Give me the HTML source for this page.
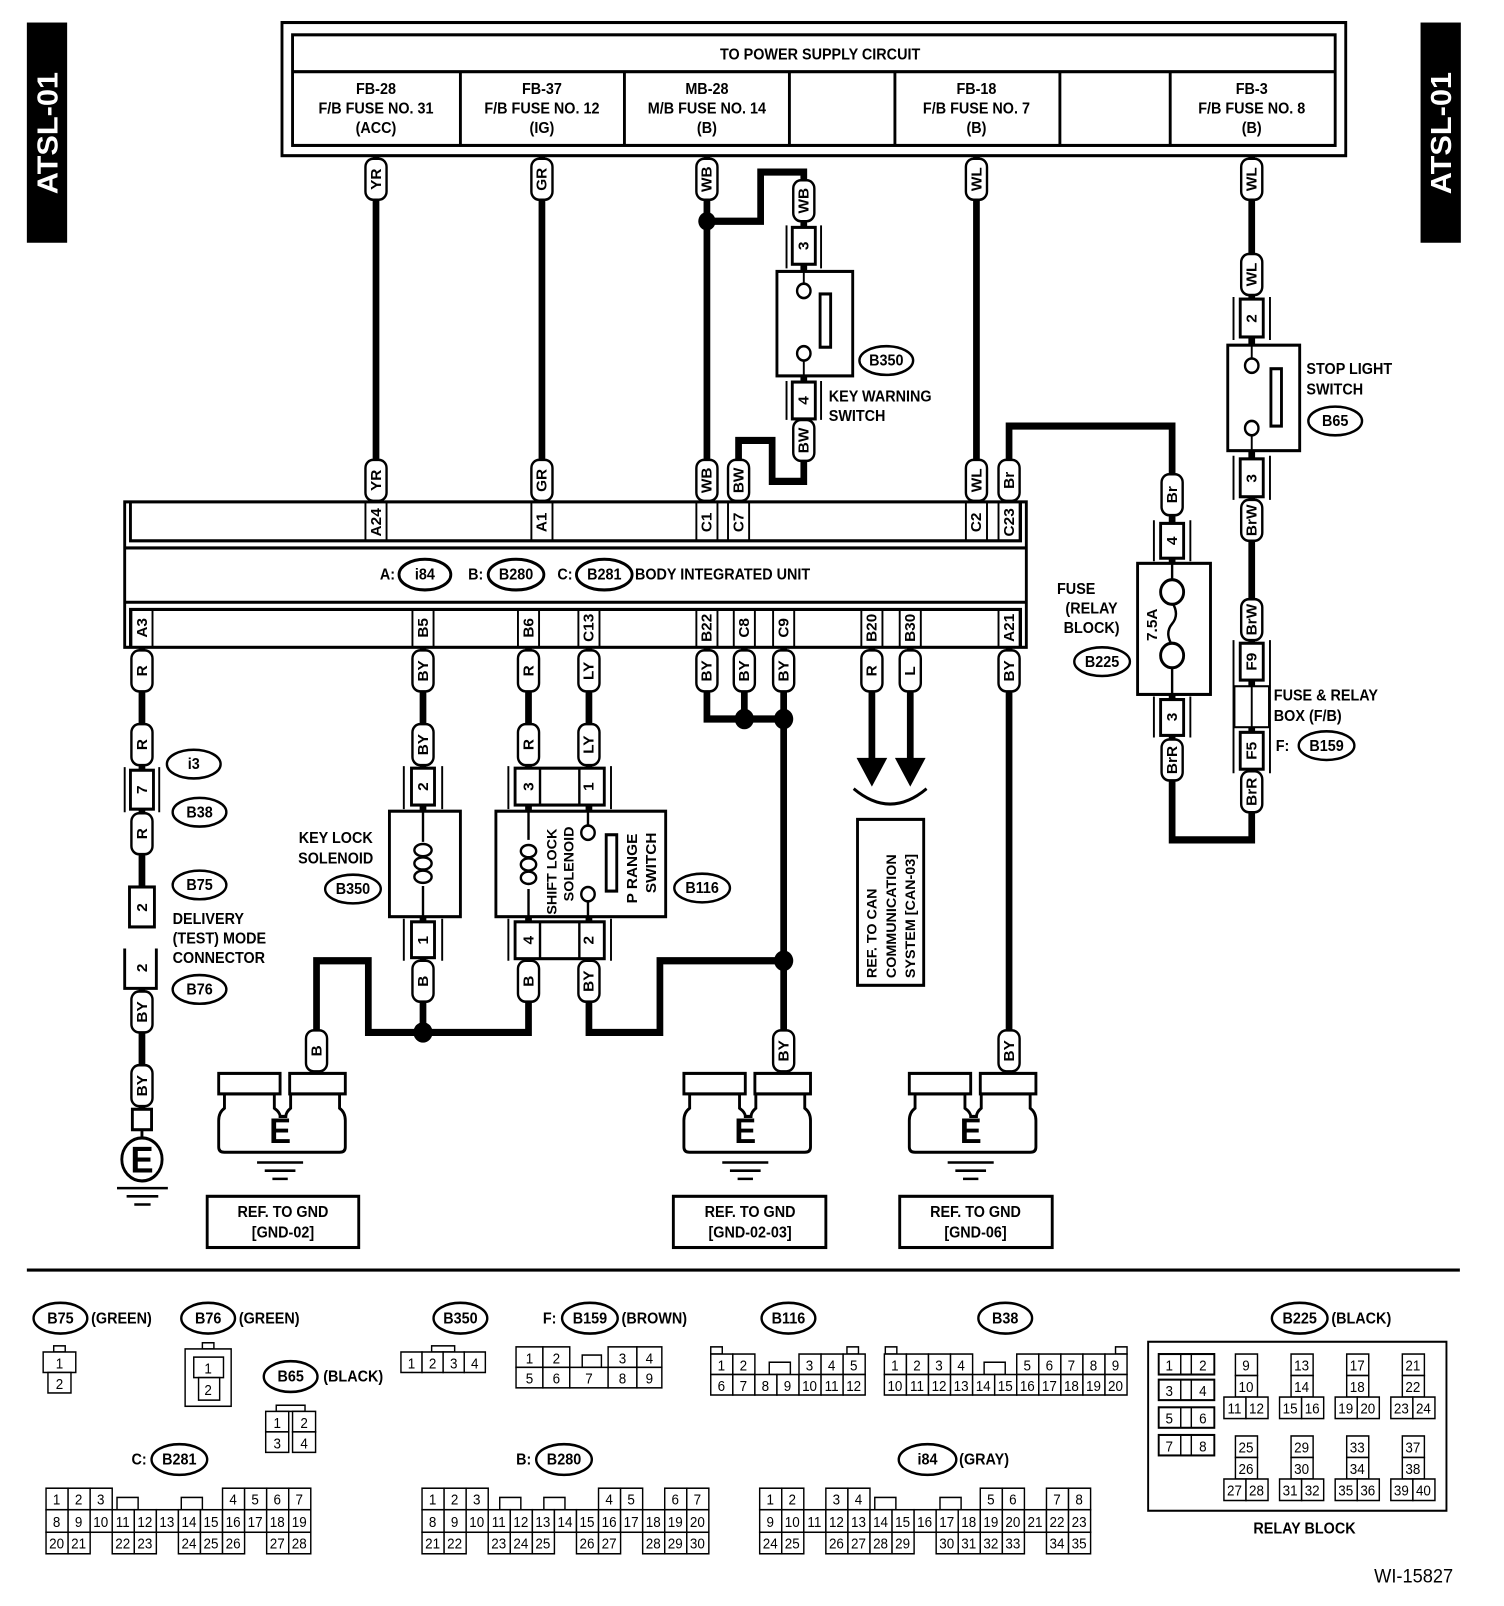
<!DOCTYPE html>
<html><head><meta charset="utf-8"><style>
html,body{margin:0;padding:0;background:#fff}
svg{display:block}
text{font-family:"Liberation Sans",sans-serif;font-weight:bold;font-size:15px;fill:#000;text-anchor:middle}
.n text,text.n{font-weight:normal;font-size:14px}
.w{fill:none;stroke:#000;stroke-width:7}
.t{fill:none;stroke:#000;stroke-width:3}
.b{fill:#fff;stroke:#000;stroke-width:3}
.c{fill:#fff;stroke:#000;stroke-width:1.5}
.p rect{fill:#fff;stroke:#000;stroke-width:2.5}
.l{text-anchor:start}
</style></head><body>
<svg width="1504" height="1606" viewBox="0 0 1568 1568" preserveAspectRatio="none" xmlns="http://www.w3.org/2000/svg">
<rect x="28" y="22" width="42" height="215" fill="#000"/>
<text transform="translate(60,130) rotate(-90)" style="fill:#fff;font-size:30px">ATSL-01</text>
<rect x="1481" y="22" width="42" height="215" fill="#000"/>
<text transform="translate(1513,130) rotate(-90)" style="fill:#fff;font-size:30px">ATSL-01</text>

<rect x="294" y="22" width="1109" height="130" class="t"/>
<rect x="305" y="34" width="1087" height="108" class="t"/>
<line x1="305" y1="70" x2="1392" y2="70" class="t"/>
<path d="M480,70V142M651,70V142M823,70V142M933,70V142M1105,70V142M1220,70V142" class="t"/>
<text x="855" y="58">TO POWER SUPPLY CIRCUIT</text>
<text x="392" y="92">FB-28</text><text x="392" y="111">F/B FUSE NO. 31</text><text x="392" y="130">(ACC)</text>
<text x="565" y="92">FB-37</text><text x="565" y="111">F/B FUSE NO. 12</text><text x="565" y="130">(IG)</text>
<text x="737" y="92">MB-28</text><text x="737" y="111">M/B FUSE NO. 14</text><text x="737" y="130">(B)</text>
<text x="1018" y="92">FB-18</text><text x="1018" y="111">F/B FUSE NO. 7</text><text x="1018" y="130">(B)</text>
<text x="1305" y="92">FB-3</text><text x="1305" y="111">F/B FUSE NO. 8</text><text x="1305" y="130">(B)</text>

<path class="w" d="M392,152V490M565,152V490M737,152V490M1018,152V490"/>
<path class="w" d="M737,216H793V168H838V470H805V430H770V490"/>
<path class="w" d="M1052,490V416H1222V820H1305V152"/>
<path class="w" d="M148,632V905M148,965V1103"/>
<path class="w" d="M441,632V1008H384V938H330V1048"/>
<path class="w" d="M551,632V1008H441"/>
<path class="w" d="M614,632V1008H688V938H817"/>
<path class="w" d="M737,632V702H817M776,632V702M817,632V1048"/>
<path class="w" d="M909,632V745M949,632V745M1052,632V1048"/>
<circle cx="737" cy="216" r="9"/><circle cx="441" cy="1008" r="10"/>
<circle cx="776" cy="702" r="10"/><circle cx="817" cy="702" r="10"/><circle cx="817" cy="938" r="10"/>
<path d="M893,740H925L909,768ZM933,740H965L949,768Z"/>
<path d="M890,770Q928,800 966,770" class="t"/>

<rect x="130" y="490" width="940" height="142" class="b"/>
<path class="t" d="M136,490V528H1064V490M130,535H1070M130,588H1070M136,632V595H1064V632"/>
<g class="t" style="stroke-width:2">
<path d="M381,490V528M403,490V528M554,490V528M576,490V528M726,490V528M748,490V528M759,490V528M781,490V528M1007,490V528M1029,490V528M1041,490V528M1063,490V528"/>
<path d="M137,595V632M159,595V632M430,595V632M452,595V632M540,595V632M562,595V632M603,595V632M625,595V632M726,595V632M748,595V632M765,595V632M787,595V632M806,595V632M828,595V632M898,595V632M920,595V632M938,595V632M960,595V632M1041,595V632M1063,595V632"/>
</g>
<g style="font-size:14px">
<text transform="translate(397,510) rotate(-90)">A24</text>
<text transform="translate(570,510) rotate(-90)">A1</text>
<text transform="translate(742,510) rotate(-90)">C1</text>
<text transform="translate(775,510) rotate(-90)">C7</text>
<text transform="translate(1023,510) rotate(-90)">C2</text>
<text transform="translate(1057,510) rotate(-90)">C23</text>
<text transform="translate(153,613) rotate(-90)">A3</text>
<text transform="translate(446,613) rotate(-90)">B5</text>
<text transform="translate(556,613) rotate(-90)">B6</text>
<text transform="translate(619,613) rotate(-90)">C13</text>
<text transform="translate(742,613) rotate(-90)">B22</text>
<text transform="translate(781,613) rotate(-90)">C8</text>
<text transform="translate(822,613) rotate(-90)">C9</text>
<text transform="translate(914,613) rotate(-90)">B20</text>
<text transform="translate(954,613) rotate(-90)">B30</text>
<text transform="translate(1057,613) rotate(-90)">A21</text>
</g>
<text x="404" y="566">A:</text><ellipse cx="443" cy="561" rx="27" ry="15" class="t"/><text x="443" y="566">i84</text>
<text x="496" y="566">B:</text><ellipse cx="538" cy="561" rx="29" ry="15" class="t"/><text x="538" y="566">B280</text>
<text x="589" y="566">C:</text><ellipse cx="630" cy="561" rx="29" ry="15" class="t"/><text x="630" y="566">B281</text>
<text x="662" y="566" class="l">BODY INTEGRATED UNIT</text>

<g class="p" style="font-size:14px">
<g transform="translate(392,175)"><rect x="-11" y="-20" width="22" height="40" rx="8"/><text transform="rotate(-90)" y="5">YR</text></g>
<g transform="translate(565,175)"><rect x="-11" y="-20" width="22" height="40" rx="8"/><text transform="rotate(-90)" y="5">GR</text></g>
<g transform="translate(737,175)"><rect x="-11" y="-20" width="22" height="40" rx="8"/><text transform="rotate(-90)" y="5">WB</text></g>
<g transform="translate(1018,175)"><rect x="-11" y="-20" width="22" height="40" rx="8"/><text transform="rotate(-90)" y="5">WL</text></g>
<g transform="translate(1305,175)"><rect x="-11" y="-20" width="22" height="40" rx="8"/><text transform="rotate(-90)" y="5">WL</text></g>
<g transform="translate(392,469)"><rect x="-11" y="-20" width="22" height="40" rx="8"/><text transform="rotate(-90)" y="5">YR</text></g>
<g transform="translate(565,469)"><rect x="-11" y="-20" width="22" height="40" rx="8"/><text transform="rotate(-90)" y="5">GR</text></g>
<g transform="translate(737,469)"><rect x="-11" y="-20" width="22" height="40" rx="8"/><text transform="rotate(-90)" y="5">WB</text></g>
<g transform="translate(770,469)"><rect x="-11" y="-20" width="22" height="40" rx="8"/><text transform="rotate(-90)" y="5">BW</text></g>
<g transform="translate(1018,469)"><rect x="-11" y="-20" width="22" height="40" rx="8"/><text transform="rotate(-90)" y="5">WL</text></g>
<g transform="translate(1052,469)"><rect x="-11" y="-20" width="22" height="40" rx="8"/><text transform="rotate(-90)" y="5">Br</text></g>
<g transform="translate(838,196)"><rect x="-11" y="-20" width="22" height="40" rx="8"/><text transform="rotate(-90)" y="5">WB</text></g>
<g transform="translate(838,430)"><rect x="-11" y="-20" width="22" height="40" rx="8"/><text transform="rotate(-90)" y="5">BW</text></g>
<g transform="translate(1222,483)"><rect x="-11" y="-20" width="22" height="40" rx="8"/><text transform="rotate(-90)" y="5">Br</text></g>
<g transform="translate(1222,742)"><rect x="-11" y="-20" width="22" height="40" rx="8"/><text transform="rotate(-90)" y="5">BrR</text></g>
<g transform="translate(1305,268)"><rect x="-11" y="-20" width="22" height="40" rx="8"/><text transform="rotate(-90)" y="5">WL</text></g>
<g transform="translate(1305,508)"><rect x="-11" y="-20" width="22" height="40" rx="8"/><text transform="rotate(-90)" y="5">BrW</text></g>
<g transform="translate(1305,605)"><rect x="-11" y="-20" width="22" height="40" rx="8"/><text transform="rotate(-90)" y="5">BrW</text></g>
<g transform="translate(1305,773)"><rect x="-11" y="-20" width="22" height="40" rx="8"/><text transform="rotate(-90)" y="5">BrR</text></g>
<g transform="translate(148,655)"><rect x="-11" y="-20" width="22" height="40" rx="8"/><text transform="rotate(-90)" y="5">R</text></g>
<g transform="translate(441,655)"><rect x="-11" y="-20" width="22" height="40" rx="8"/><text transform="rotate(-90)" y="5">BY</text></g>
<g transform="translate(551,655)"><rect x="-11" y="-20" width="22" height="40" rx="8"/><text transform="rotate(-90)" y="5">R</text></g>
<g transform="translate(614,655)"><rect x="-11" y="-20" width="22" height="40" rx="8"/><text transform="rotate(-90)" y="5">LY</text></g>
<g transform="translate(737,655)"><rect x="-11" y="-20" width="22" height="40" rx="8"/><text transform="rotate(-90)" y="5">BY</text></g>
<g transform="translate(776,655)"><rect x="-11" y="-20" width="22" height="40" rx="8"/><text transform="rotate(-90)" y="5">BY</text></g>
<g transform="translate(817,655)"><rect x="-11" y="-20" width="22" height="40" rx="8"/><text transform="rotate(-90)" y="5">BY</text></g>
<g transform="translate(909,655)"><rect x="-11" y="-20" width="22" height="40" rx="8"/><text transform="rotate(-90)" y="5">R</text></g>
<g transform="translate(949,655)"><rect x="-11" y="-20" width="22" height="40" rx="8"/><text transform="rotate(-90)" y="5">L</text></g>
<g transform="translate(1052,655)"><rect x="-11" y="-20" width="22" height="40" rx="8"/><text transform="rotate(-90)" y="5">BY</text></g>
<g transform="translate(148,727)"><rect x="-11" y="-20" width="22" height="40" rx="8"/><text transform="rotate(-90)" y="5">R</text></g>
<g transform="translate(148,814)"><rect x="-11" y="-20" width="22" height="40" rx="8"/><text transform="rotate(-90)" y="5">R</text></g>
<g transform="translate(148,988)"><rect x="-11" y="-20" width="22" height="40" rx="8"/><text transform="rotate(-90)" y="5">BY</text></g>
<g transform="translate(148,1060)"><rect x="-11" y="-20" width="22" height="40" rx="8"/><text transform="rotate(-90)" y="5">BY</text></g>
<g transform="translate(441,727)"><rect x="-11" y="-20" width="22" height="40" rx="8"/><text transform="rotate(-90)" y="5">BY</text></g>
<g transform="translate(441,958)"><rect x="-11" y="-20" width="22" height="40" rx="8"/><text transform="rotate(-90)" y="5">B</text></g>
<g transform="translate(551,727)"><rect x="-11" y="-20" width="22" height="40" rx="8"/><text transform="rotate(-90)" y="5">R</text></g>
<g transform="translate(614,727)"><rect x="-11" y="-20" width="22" height="40" rx="8"/><text transform="rotate(-90)" y="5">LY</text></g>
<g transform="translate(551,958)"><rect x="-11" y="-20" width="22" height="40" rx="8"/><text transform="rotate(-90)" y="5">B</text></g>
<g transform="translate(614,958)"><rect x="-11" y="-20" width="22" height="40" rx="8"/><text transform="rotate(-90)" y="5">BY</text></g>
<g transform="translate(330,1026)"><rect x="-11" y="-20" width="22" height="40" rx="8"/><text transform="rotate(-90)" y="5">B</text></g>
<g transform="translate(817,1026)"><rect x="-11" y="-20" width="22" height="40" rx="8"/><text transform="rotate(-90)" y="5">BY</text></g>
<g transform="translate(1052,1026)"><rect x="-11" y="-20" width="22" height="40" rx="8"/><text transform="rotate(-90)" y="5">BY</text></g>
</g>

<g style="font-size:14px">
<rect x="826" y="222" width="24" height="36" class="b"/><text transform="translate(843,240) rotate(-90)">3</text>
<path d="M820,220V262M856,220V262M820,372V410M856,372V410" class="t" style="stroke-width:2"/>
<rect x="826" y="373" width="24" height="36" class="b"/><text transform="translate(843,391) rotate(-90)">4</text>
<rect x="810" y="265" width="79" height="102" class="b"/>
<path d="M838,265V277M838,351V367" class="t" style="stroke-width:2"/>
<circle cx="838" cy="284" r="7" class="b" style="stroke-width:2.5"/><circle cx="838" cy="345" r="7" class="b" style="stroke-width:2.5"/>
<rect x="855" y="287" width="11" height="52" class="b"/>

<rect x="1210" y="511" width="24" height="34" class="b"/><text transform="translate(1227,528) rotate(-90)">4</text>
<rect x="1210" y="683" width="24" height="35" class="b"/><text transform="translate(1227,700) rotate(-90)">3</text>
<path d="M1203,508V548M1241,508V548M1203,680V720M1241,680V720" class="t" style="stroke-width:2"/>
<rect x="1186" y="550" width="76" height="128" class="b"/>
<path d="M1222,550V568M1222,650V678M1222,588Q1230,600 1222,609Q1214,618 1222,630" class="t" style="stroke-width:2.5"/>
<circle cx="1222" cy="578" r="12" class="b"/><circle cx="1222" cy="640" r="12" class="b"/>
<text transform="translate(1206,610) rotate(-90)">7.5A</text>

<rect x="1293" y="292" width="24" height="37" class="b"/><text transform="translate(1310,311) rotate(-90)">2</text>
<rect x="1293" y="448" width="24" height="37" class="b"/><text transform="translate(1310,467) rotate(-90)">3</text>
<path d="M1286,290V332M1324,290V332M1286,445V488M1324,445V488" class="t" style="stroke-width:2"/>
<rect x="1280" y="337" width="75" height="103" class="b"/>
<path d="M1305,337V350M1305,425V440" class="t" style="stroke-width:2"/>
<circle cx="1305" cy="357" r="7" class="b" style="stroke-width:2.5"/><circle cx="1305" cy="418" r="7" class="b" style="stroke-width:2.5"/>
<rect x="1325" y="360" width="11" height="56" class="b"/>
<rect x="1293" y="628" width="24" height="36" class="b"/><text transform="translate(1310,646) rotate(-90)">F9</text>
<rect x="1287" y="670" width="36" height="40" class="b" style="stroke-width:2"/><line x1="1305" y1="670" x2="1305" y2="710" class="t" style="stroke-width:2"/>
<rect x="1293" y="715" width="24" height="36" class="b"/><text transform="translate(1310,733) rotate(-90)">F5</text>
<path d="M1286,625V755M1324,625V755" class="t" style="stroke-width:2"/>

<rect x="136" y="752" width="24" height="38" class="b"/><text transform="translate(153,771) rotate(-90)">7</text>
<path d="M130,749V793M166,749V793" class="t" style="stroke-width:2"/>
<rect x="135" y="866" width="26" height="39" class="b"/><text transform="translate(153,886) rotate(-90)">2</text>
<path d="M130,926V965H163V926" class="t"/><text transform="translate(153,945) rotate(-90)">2</text>
<rect x="138" y="1083" width="20" height="20" class="b"/>
<path d="M148,1103V1112" class="t"/>
<circle cx="148" cy="1132" r="21" class="b"/>
<text x="148" y="1145" style="font-size:36px">E</text>
<path d="M122,1160H175M132,1168H165M140,1176H157" class="t" style="stroke-width:2.5"/>

<rect x="429" y="750" width="24" height="36" class="b"/><text transform="translate(446,768) rotate(-90)">2</text>
<rect x="429" y="900" width="24" height="35" class="b"/><text transform="translate(446,918) rotate(-90)">1</text>
<path d="M421,748V790M461,748V790M421,897V938M461,897V938" class="t" style="stroke-width:2"/>
<rect x="406" y="792" width="74" height="103" class="b"/>
<path d="M441,792V822M441,865V895" class="t" style="stroke-width:2.5"/>
<g class="t" style="stroke-width:2.5"><ellipse cx="441" cy="830" rx="9" ry="6"/><ellipse cx="441" cy="843" rx="9" ry="6"/><ellipse cx="441" cy="856" rx="9" ry="6"/></g>

<rect x="537" y="750" width="93" height="36" class="b"/>
<path d="M563,750V786M604,750V786" class="t" style="stroke-width:2.5"/>
<text transform="translate(556,768) rotate(-90)">3</text><text transform="translate(619,768) rotate(-90)">1</text>
<rect x="537" y="900" width="93" height="36" class="b"/>
<path d="M563,900V936M604,900V936" class="t" style="stroke-width:2.5"/>
<text transform="translate(556,918) rotate(-90)">4</text><text transform="translate(619,918) rotate(-90)">2</text>
<path d="M530,748V790M637,748V790M530,897V938M637,897V938" class="t" style="stroke-width:2"/>
<rect x="517" y="792" width="177" height="103" class="b"/>
<path d="M551,792V820M551,868V895M613,792V806M613,880V895" class="t" style="stroke-width:2.5"/>
<g class="t" style="stroke-width:2.5"><ellipse cx="551" cy="831" rx="8" ry="6"/><ellipse cx="551" cy="844" rx="8" ry="6"/><ellipse cx="551" cy="857" rx="8" ry="6"/></g>
<circle cx="613" cy="813" r="7" class="b" style="stroke-width:2.5"/><circle cx="613" cy="873" r="7" class="b" style="stroke-width:2.5"/>
<rect x="632" y="815" width="11" height="55" class="b"/>
</g>
<text transform="translate(580,893) rotate(-90)" class="l" style="font-size:14px">SHIFT LOCK</text>
<text transform="translate(598,880) rotate(-90)" class="l" style="font-size:14px">SOLENOID</text>
<text transform="translate(664,882) rotate(-90)" class="l" style="font-size:15px">P RANGE</text>
<text transform="translate(684,872) rotate(-90)" class="l" style="font-size:15px">SWITCH</text>

<rect x="894" y="800" width="69" height="162" class="t"/>
<text transform="translate(914,955) rotate(-90)" class="l" style="font-size:14px">REF. TO CAN</text>
<text transform="translate(934,955) rotate(-90)" class="l" style="font-size:14px">COMMUNICATION</text>
<text transform="translate(954,955) rotate(-90)" class="l" style="font-size:14px">SYSTEM [CAN-03]</text>

<g>
<path class="b" d="M234,1068V1082Q228,1086 228,1094V1120Q228,1125 234,1125H354Q360,1125 360,1120V1094Q360,1086 354,1082V1068H303V1082Q298,1086 298,1090H292Q292,1086 286,1082V1068Z"/>
<rect x="228" y="1048" width="64" height="20" class="b"/><rect x="302" y="1048" width="58" height="20" class="b"/>
<text x="292" y="1116" style="font-size:34px">E</text>
<path d="M268,1135H316M276,1143H308M284,1151H300" class="t" style="stroke-width:2.5"/>
<rect x="216" y="1168" width="158" height="50" class="t"/>
<text x="295" y="1188">REF. TO GND</text><text x="295" y="1208">[GND-02]</text>
</g>
<g transform="translate(485,0)">
<path class="b" d="M234,1068V1082Q228,1086 228,1094V1120Q228,1125 234,1125H354Q360,1125 360,1120V1094Q360,1086 354,1082V1068H303V1082Q298,1086 298,1090H292Q292,1086 286,1082V1068Z"/>
<rect x="228" y="1048" width="64" height="20" class="b"/><rect x="302" y="1048" width="58" height="20" class="b"/>
<text x="292" y="1116" style="font-size:34px">E</text>
<path d="M268,1135H316M276,1143H308M284,1151H300" class="t" style="stroke-width:2.5"/>
<rect x="217" y="1168" width="159" height="50" class="t"/>
<text x="297" y="1188">REF. TO GND</text><text x="297" y="1208">[GND-02-03]</text>
</g>
<g transform="translate(720,0)">
<path class="b" d="M234,1068V1082Q228,1086 228,1094V1120Q228,1125 234,1125H354Q360,1125 360,1120V1094Q360,1086 354,1082V1068H303V1082Q298,1086 298,1090H292Q292,1086 286,1082V1068Z"/>
<rect x="228" y="1048" width="64" height="20" class="b"/><rect x="302" y="1048" width="58" height="20" class="b"/>
<text x="292" y="1116" style="font-size:34px">E</text>
<path d="M268,1135H316M276,1143H308M284,1151H300" class="t" style="stroke-width:2.5"/>
<rect x="218" y="1168" width="159" height="50" class="t"/>
<text x="297" y="1188">REF. TO GND</text><text x="297" y="1208">[GND-06]</text>
</g>

<g class="t" style="stroke-width:2.5">
<ellipse cx="924" cy="352" rx="28" ry="14"/><ellipse cx="1392" cy="411" rx="28" ry="14"/>
<ellipse cx="1149" cy="646" rx="29" ry="14"/><ellipse cx="1383" cy="728" rx="29" ry="14"/>
<ellipse cx="202" cy="746" rx="28" ry="14"/><ellipse cx="208" cy="793" rx="28" ry="14"/>
<ellipse cx="208" cy="864" rx="28" ry="14"/><ellipse cx="208" cy="966" rx="28" ry="14"/>
<ellipse cx="368" cy="868" rx="29" ry="14"/><ellipse cx="732" cy="867" rx="29" ry="14"/>
</g>
<text x="924" y="357">B350</text><text x="1392" y="416">B65</text><text x="1149" y="651">B225</text><text x="1383" y="733">B159</text>
<text x="202" y="751">i3</text><text x="208" y="798">B38</text><text x="208" y="869">B75</text><text x="208" y="971">B76</text>
<text x="368" y="873">B350</text><text x="732" y="872">B116</text>
<text x="864" y="392" class="l">KEY WARNING</text><text x="864" y="411" class="l">SWITCH</text>
<text x="1362" y="365" class="l">STOP LIGHT</text><text x="1362" y="385" class="l">SWITCH</text>
<text x="1328" y="684" class="l">FUSE &amp; RELAY</text><text x="1328" y="704" class="l">BOX (F/B)</text><text x="1330" y="733" class="l">F:</text>
<text x="180" y="902" class="l">DELIVERY</text><text x="180" y="921" class="l">(TEST) MODE</text><text x="180" y="940" class="l">CONNECTOR</text>
<text x="1122" y="580">FUSE</text><text x="1138" y="599">(RELAY</text><text x="1138" y="618">BLOCK)</text>
<text x="350" y="823">KEY LOCK</text><text x="350" y="843">SOLENOID</text>

<line x1="28" y1="1240" x2="1522" y2="1240" class="t"/>

<g class="t" style="stroke-width:2.5">
<ellipse cx="63" cy="1287" rx="28" ry="15"/><ellipse cx="217" cy="1287" rx="28" ry="15"/>
<ellipse cx="303" cy="1344" rx="28" ry="15"/><ellipse cx="480" cy="1287" rx="28" ry="15"/>
<ellipse cx="615" cy="1287" rx="29" ry="15"/><ellipse cx="822" cy="1287" rx="28" ry="15"/>
<ellipse cx="1048" cy="1287" rx="28" ry="15"/><ellipse cx="1355" cy="1287" rx="29" ry="15"/>
<ellipse cx="187" cy="1425" rx="29" ry="15"/><ellipse cx="588" cy="1425" rx="29" ry="15"/>
<ellipse cx="967" cy="1425" rx="30" ry="15"/>
</g>
<text x="63" y="1292">B75</text><text x="95" y="1292" class="l">(GREEN)</text>
<text x="217" y="1292">B76</text><text x="249" y="1292" class="l">(GREEN)</text>
<text x="303" y="1349">B65</text><text x="337" y="1349" class="l">(BLACK)</text>
<text x="480" y="1292">B350</text>
<text x="573" y="1292">F:</text><text x="615" y="1292">B159</text><text x="648" y="1292" class="l">(BROWN)</text>
<text x="822" y="1292">B116</text><text x="1048" y="1292">B38</text>
<text x="1355" y="1292">B225</text><text x="1388" y="1292" class="l">(BLACK)</text>
<text x="145" y="1430">C:</text><text x="187" y="1430">B281</text>
<text x="546" y="1430">B:</text><text x="588" y="1430">B280</text>
<text x="967" y="1430">i84</text><text x="1000" y="1430" class="l">(GRAY)</text>
<text x="1360" y="1497">RELAY BLOCK</text>
<text x="1515" y="1545" style="font-weight:normal;font-size:19px;text-anchor:end">WI-15827</text>

<g class="n">
<rect x="56" y="1314" width="12" height="6" class="c"/>
<rect x="45" y="1320" width="34" height="20" class="c"/><text x="62" y="1336">1</text>
<rect x="50" y="1340" width="24" height="20" class="c"/><text x="62" y="1356">2</text>
<rect x="211" y="1311" width="12" height="6" class="c"/>
<rect x="193" y="1317" width="48" height="56" class="c"/>
<rect x="202" y="1325" width="31" height="20" class="c"/><text x="217" y="1341">1</text>
<rect x="207" y="1345" width="22" height="22" class="c"/><text x="217" y="1362">2</text>
<rect x="288" y="1372" width="30" height="6" class="c"/>
<rect x="277" y="1378" width="24" height="20" class="c"/><text x="289" y="1394">1</text>
<rect x="305" y="1378" width="24" height="20" class="c"/><text x="317" y="1394">2</text>
<rect x="277" y="1398" width="24" height="20" class="c"/><text x="289" y="1414">3</text>
<rect x="305" y="1398" width="24" height="20" class="c"/><text x="317" y="1414">4</text>
<rect x="450" y="1314" width="24" height="6" class="c"/>
<rect x="418" y="1320" width="22" height="20" class="c"/><text x="429" y="1336">1</text>
<rect x="440" y="1320" width="22" height="20" class="c"/><text x="451" y="1336">2</text>
<rect x="462" y="1320" width="22" height="20" class="c"/><text x="473" y="1336">3</text>
<rect x="484" y="1320" width="22" height="20" class="c"/><text x="495" y="1336">4</text>
<rect x="538" y="1315" width="28" height="20" class="c"/><text x="552" y="1331">1</text>
<rect x="566" y="1315" width="28" height="20" class="c"/><text x="580" y="1331">2</text>
<rect x="607" y="1323" width="20" height="12" class="c"/>
<rect x="634" y="1315" width="30" height="20" class="c"/><text x="649" y="1331">3</text>
<rect x="664" y="1315" width="26" height="20" class="c"/><text x="677" y="1331">4</text>
<rect x="538" y="1335" width="28" height="20" class="c"/><text x="552" y="1351">5</text>
<rect x="566" y="1335" width="28" height="20" class="c"/><text x="580" y="1351">6</text>
<rect x="594" y="1335" width="40" height="20" class="c"/><text x="614" y="1351">7</text>
<rect x="634" y="1335" width="30" height="20" class="c"/><text x="649" y="1351">8</text>
<rect x="664" y="1335" width="26" height="20" class="c"/><text x="677" y="1351">9</text>
<rect x="741" y="1315" width="12" height="7" class="c"/><rect x="883" y="1315" width="12" height="7" class="c"/>
<rect x="741" y="1322" width="23" height="20" class="c"/><text x="752" y="1338">1</text>
<rect x="764" y="1322" width="23" height="20" class="c"/><text x="775" y="1338">2</text>
<rect x="802" y="1330" width="22" height="12" class="c"/>
<rect x="833" y="1322" width="23" height="20" class="c"/><text x="844" y="1338">3</text>
<rect x="856" y="1322" width="23" height="20" class="c"/><text x="867" y="1338">4</text>
<rect x="879" y="1322" width="23" height="20" class="c"/><text x="890" y="1338">5</text>
<rect x="741" y="1342" width="23" height="20" class="c"/><text x="752" y="1358">6</text>
<rect x="764" y="1342" width="23" height="20" class="c"/><text x="775" y="1358">7</text>
<rect x="787" y="1342" width="23" height="20" class="c"/><text x="798" y="1358">8</text>
<rect x="810" y="1342" width="23" height="20" class="c"/><text x="821" y="1358">9</text>
<rect x="833" y="1342" width="23" height="20" class="c"/><text x="844" y="1358">10</text>
<rect x="856" y="1342" width="23" height="20" class="c"/><text x="867" y="1358">11</text>
<rect x="879" y="1342" width="23" height="20" class="c"/><text x="890" y="1358">12</text>
<rect x="923" y="1315" width="12" height="7" class="c"/><rect x="1163" y="1315" width="12" height="7" class="c"/>
<rect x="922" y="1322" width="23" height="20" class="c"/><text x="933" y="1338">1</text>
<rect x="945" y="1322" width="23" height="20" class="c"/><text x="956" y="1338">2</text>
<rect x="968" y="1322" width="23" height="20" class="c"/><text x="979" y="1338">3</text>
<rect x="991" y="1322" width="23" height="20" class="c"/><text x="1002" y="1338">4</text>
<rect x="1026" y="1330" width="22" height="12" class="c"/>
<rect x="1060" y="1322" width="23" height="20" class="c"/><text x="1071" y="1338">5</text>
<rect x="1083" y="1322" width="23" height="20" class="c"/><text x="1094" y="1338">6</text>
<rect x="1106" y="1322" width="23" height="20" class="c"/><text x="1117" y="1338">7</text>
<rect x="1129" y="1322" width="23" height="20" class="c"/><text x="1140" y="1338">8</text>
<rect x="1152" y="1322" width="23" height="20" class="c"/><text x="1163" y="1338">9</text>
<rect x="922" y="1342" width="23" height="20" class="c"/><text x="933" y="1358">10</text>
<rect x="945" y="1342" width="23" height="20" class="c"/><text x="956" y="1358">11</text>
<rect x="968" y="1342" width="23" height="20" class="c"/><text x="979" y="1358">12</text>
<rect x="991" y="1342" width="23" height="20" class="c"/><text x="1002" y="1358">13</text>
<rect x="1014" y="1342" width="23" height="20" class="c"/><text x="1025" y="1358">14</text>
<rect x="1037" y="1342" width="23" height="20" class="c"/><text x="1048" y="1358">15</text>
<rect x="1060" y="1342" width="23" height="20" class="c"/><text x="1071" y="1358">16</text>
<rect x="1083" y="1342" width="23" height="20" class="c"/><text x="1094" y="1358">17</text>
<rect x="1106" y="1342" width="23" height="20" class="c"/><text x="1117" y="1358">18</text>
<rect x="1129" y="1342" width="23" height="20" class="c"/><text x="1140" y="1358">19</text>
<rect x="1152" y="1342" width="23" height="20" class="c"/><text x="1163" y="1358">20</text>

<rect x="48" y="1453" width="23" height="21" class="c"/><text x="59" y="1469">1</text>
<rect x="71" y="1453" width="23" height="21" class="c"/><text x="82" y="1469">2</text>
<rect x="94" y="1453" width="23" height="21" class="c"/><text x="105" y="1469">3</text>
<rect x="122" y="1462" width="22" height="12" class="c"/><rect x="189" y="1462" width="22" height="12" class="c"/>
<rect x="232" y="1453" width="23" height="21" class="c"/><text x="243" y="1469">4</text>
<rect x="255" y="1453" width="23" height="21" class="c"/><text x="266" y="1469">5</text>
<rect x="278" y="1453" width="23" height="21" class="c"/><text x="289" y="1469">6</text>
<rect x="301" y="1453" width="23" height="21" class="c"/><text x="312" y="1469">7</text>
<rect x="48" y="1474" width="23" height="22" class="c"/><text x="59" y="1491">8</text>
<rect x="71" y="1474" width="23" height="22" class="c"/><text x="82" y="1491">9</text>
<rect x="94" y="1474" width="23" height="22" class="c"/><text x="105" y="1491">10</text>
<rect x="117" y="1474" width="23" height="22" class="c"/><text x="128" y="1491">11</text>
<rect x="140" y="1474" width="23" height="22" class="c"/><text x="151" y="1491">12</text>
<rect x="163" y="1474" width="23" height="22" class="c"/><text x="174" y="1491">13</text>
<rect x="186" y="1474" width="23" height="22" class="c"/><text x="197" y="1491">14</text>
<rect x="209" y="1474" width="23" height="22" class="c"/><text x="220" y="1491">15</text>
<rect x="232" y="1474" width="23" height="22" class="c"/><text x="243" y="1491">16</text>
<rect x="255" y="1474" width="23" height="22" class="c"/><text x="266" y="1491">17</text>
<rect x="278" y="1474" width="23" height="22" class="c"/><text x="289" y="1491">18</text>
<rect x="301" y="1474" width="23" height="22" class="c"/><text x="312" y="1491">19</text>
<rect x="48" y="1496" width="23" height="21" class="c"/><text x="59" y="1512">20</text>
<rect x="71" y="1496" width="23" height="21" class="c"/><text x="82" y="1512">21</text>
<rect x="117" y="1496" width="23" height="21" class="c"/><text x="128" y="1512">22</text>
<rect x="140" y="1496" width="23" height="21" class="c"/><text x="151" y="1512">23</text>
<rect x="186" y="1496" width="23" height="21" class="c"/><text x="197" y="1512">24</text>
<rect x="209" y="1496" width="23" height="21" class="c"/><text x="220" y="1512">25</text>
<rect x="232" y="1496" width="23" height="21" class="c"/><text x="243" y="1512">26</text>
<rect x="278" y="1496" width="23" height="21" class="c"/><text x="289" y="1512">27</text>
<rect x="301" y="1496" width="23" height="21" class="c"/><text x="312" y="1512">28</text>

<rect x="440" y="1453" width="23" height="21" class="c"/><text x="451" y="1469">1</text>
<rect x="463" y="1453" width="23" height="21" class="c"/><text x="474" y="1469">2</text>
<rect x="486" y="1453" width="23" height="21" class="c"/><text x="497" y="1469">3</text>
<rect x="521" y="1462" width="22" height="12" class="c"/><rect x="567" y="1462" width="22" height="12" class="c"/>
<rect x="624" y="1453" width="23" height="21" class="c"/><text x="635" y="1469">4</text>
<rect x="647" y="1453" width="23" height="21" class="c"/><text x="658" y="1469">5</text>
<rect x="693" y="1453" width="23" height="21" class="c"/><text x="704" y="1469">6</text>
<rect x="716" y="1453" width="23" height="21" class="c"/><text x="727" y="1469">7</text>
<rect x="440" y="1474" width="23" height="22" class="c"/><text x="451" y="1491">8</text>
<rect x="463" y="1474" width="23" height="22" class="c"/><text x="474" y="1491">9</text>
<rect x="486" y="1474" width="23" height="22" class="c"/><text x="497" y="1491">10</text>
<rect x="509" y="1474" width="23" height="22" class="c"/><text x="520" y="1491">11</text>
<rect x="532" y="1474" width="23" height="22" class="c"/><text x="543" y="1491">12</text>
<rect x="555" y="1474" width="23" height="22" class="c"/><text x="566" y="1491">13</text>
<rect x="578" y="1474" width="23" height="22" class="c"/><text x="589" y="1491">14</text>
<rect x="601" y="1474" width="23" height="22" class="c"/><text x="612" y="1491">15</text>
<rect x="624" y="1474" width="23" height="22" class="c"/><text x="635" y="1491">16</text>
<rect x="647" y="1474" width="23" height="22" class="c"/><text x="658" y="1491">17</text>
<rect x="670" y="1474" width="23" height="22" class="c"/><text x="681" y="1491">18</text>
<rect x="693" y="1474" width="23" height="22" class="c"/><text x="704" y="1491">19</text>
<rect x="716" y="1474" width="23" height="22" class="c"/><text x="727" y="1491">20</text>
<rect x="440" y="1496" width="23" height="21" class="c"/><text x="451" y="1512">21</text>
<rect x="463" y="1496" width="23" height="21" class="c"/><text x="474" y="1512">22</text>
<rect x="509" y="1496" width="23" height="21" class="c"/><text x="520" y="1512">23</text>
<rect x="532" y="1496" width="23" height="21" class="c"/><text x="543" y="1512">24</text>
<rect x="555" y="1496" width="23" height="21" class="c"/><text x="566" y="1512">25</text>
<rect x="601" y="1496" width="23" height="21" class="c"/><text x="612" y="1512">26</text>
<rect x="624" y="1496" width="23" height="21" class="c"/><text x="635" y="1512">27</text>
<rect x="670" y="1496" width="23" height="21" class="c"/><text x="681" y="1512">28</text>
<rect x="693" y="1496" width="23" height="21" class="c"/><text x="704" y="1512">29</text>
<rect x="716" y="1496" width="23" height="21" class="c"/><text x="727" y="1512">30</text>

<rect x="792" y="1453" width="23" height="21" class="c"/><text x="803" y="1469">1</text>
<rect x="815" y="1453" width="23" height="21" class="c"/><text x="826" y="1469">2</text>
<rect x="861" y="1453" width="23" height="21" class="c"/><text x="872" y="1469">3</text>
<rect x="884" y="1453" width="23" height="21" class="c"/><text x="895" y="1469">4</text>
<rect x="912" y="1462" width="22" height="12" class="c"/><rect x="980" y="1462" width="22" height="12" class="c"/>
<rect x="1022" y="1453" width="23" height="21" class="c"/><text x="1033" y="1469">5</text>
<rect x="1045" y="1453" width="23" height="21" class="c"/><text x="1056" y="1469">6</text>
<rect x="1091" y="1453" width="23" height="21" class="c"/><text x="1102" y="1469">7</text>
<rect x="1114" y="1453" width="23" height="21" class="c"/><text x="1125" y="1469">8</text>
<rect x="792" y="1474" width="23" height="22" class="c"/><text x="803" y="1491">9</text>
<rect x="815" y="1474" width="23" height="22" class="c"/><text x="826" y="1491">10</text>
<rect x="838" y="1474" width="23" height="22" class="c"/><text x="849" y="1491">11</text>
<rect x="861" y="1474" width="23" height="22" class="c"/><text x="872" y="1491">12</text>
<rect x="884" y="1474" width="23" height="22" class="c"/><text x="895" y="1491">13</text>
<rect x="907" y="1474" width="23" height="22" class="c"/><text x="918" y="1491">14</text>
<rect x="930" y="1474" width="23" height="22" class="c"/><text x="941" y="1491">15</text>
<rect x="953" y="1474" width="23" height="22" class="c"/><text x="964" y="1491">16</text>
<rect x="976" y="1474" width="23" height="22" class="c"/><text x="987" y="1491">17</text>
<rect x="999" y="1474" width="23" height="22" class="c"/><text x="1010" y="1491">18</text>
<rect x="1022" y="1474" width="23" height="22" class="c"/><text x="1033" y="1491">19</text>
<rect x="1045" y="1474" width="23" height="22" class="c"/><text x="1056" y="1491">20</text>
<rect x="1068" y="1474" width="23" height="22" class="c"/><text x="1079" y="1491">21</text>
<rect x="1091" y="1474" width="23" height="22" class="c"/><text x="1102" y="1491">22</text>
<rect x="1114" y="1474" width="23" height="22" class="c"/><text x="1125" y="1491">23</text>
<rect x="792" y="1496" width="23" height="21" class="c"/><text x="803" y="1512">24</text>
<rect x="815" y="1496" width="23" height="21" class="c"/><text x="826" y="1512">25</text>
<rect x="861" y="1496" width="23" height="21" class="c"/><text x="872" y="1512">26</text>
<rect x="884" y="1496" width="23" height="21" class="c"/><text x="895" y="1512">27</text>
<rect x="907" y="1496" width="23" height="21" class="c"/><text x="918" y="1512">28</text>
<rect x="930" y="1496" width="23" height="21" class="c"/><text x="941" y="1512">29</text>
<rect x="976" y="1496" width="23" height="21" class="c"/><text x="987" y="1512">30</text>
<rect x="999" y="1496" width="23" height="21" class="c"/><text x="1010" y="1512">31</text>
<rect x="1022" y="1496" width="23" height="21" class="c"/><text x="1033" y="1512">32</text>
<rect x="1045" y="1496" width="23" height="21" class="c"/><text x="1056" y="1512">33</text>
<rect x="1091" y="1496" width="23" height="21" class="c"/><text x="1102" y="1512">34</text>
<rect x="1114" y="1496" width="23" height="21" class="c"/><text x="1125" y="1512">35</text>

<rect x="1197" y="1310" width="311" height="165" class="c" style="stroke-width:2"/>
<g>
<rect x="1208" y="1322" width="58" height="20" class="c" style="stroke-width:2"/><path d="M1231,1322V1342M1242,1322V1342" stroke="#000" stroke-width="1.5"/><text x="1219" y="1338">1</text><text x="1254" y="1338">2</text>
<rect x="1208" y="1347" width="58" height="20" class="c" style="stroke-width:2"/><path d="M1231,1347V1367M1242,1347V1367" stroke="#000" stroke-width="1.5"/><text x="1219" y="1363">3</text><text x="1254" y="1363">4</text>
<rect x="1208" y="1374" width="58" height="20" class="c" style="stroke-width:2"/><path d="M1231,1374V1394M1242,1374V1394" stroke="#000" stroke-width="1.5"/><text x="1219" y="1390">5</text><text x="1254" y="1390">6</text>
<rect x="1208" y="1401" width="58" height="20" class="c" style="stroke-width:2"/><path d="M1231,1401V1421M1242,1401V1421" stroke="#000" stroke-width="1.5"/><text x="1219" y="1417">7</text><text x="1254" y="1417">8</text>
</g>
<g style="font-size:13px">
<rect x="1288" y="1322" width="23" height="21" class="c"/><rect x="1288" y="1343" width="23" height="21" class="c"/><rect x="1276" y="1364" width="23" height="21" class="c"/><rect x="1299" y="1364" width="23" height="21" class="c"/>
<text x="1299" y="1338">9</text><text x="1299" y="1359">10</text><text x="1287" y="1380">11</text><text x="1310" y="1380">12</text>
<rect x="1346" y="1322" width="23" height="21" class="c"/><rect x="1346" y="1343" width="23" height="21" class="c"/><rect x="1334" y="1364" width="23" height="21" class="c"/><rect x="1357" y="1364" width="23" height="21" class="c"/>
<text x="1357" y="1338">13</text><text x="1357" y="1359">14</text><text x="1345" y="1380">15</text><text x="1368" y="1380">16</text>
<rect x="1404" y="1322" width="23" height="21" class="c"/><rect x="1404" y="1343" width="23" height="21" class="c"/><rect x="1392" y="1364" width="23" height="21" class="c"/><rect x="1415" y="1364" width="23" height="21" class="c"/>
<text x="1415" y="1338">17</text><text x="1415" y="1359">18</text><text x="1403" y="1380">19</text><text x="1426" y="1380">20</text>
<rect x="1462" y="1322" width="23" height="21" class="c"/><rect x="1462" y="1343" width="23" height="21" class="c"/><rect x="1450" y="1364" width="23" height="21" class="c"/><rect x="1473" y="1364" width="23" height="21" class="c"/>
<text x="1473" y="1338">21</text><text x="1473" y="1359">22</text><text x="1461" y="1380">23</text><text x="1484" y="1380">24</text>
<rect x="1288" y="1402" width="23" height="21" class="c"/><rect x="1288" y="1423" width="23" height="21" class="c"/><rect x="1276" y="1444" width="23" height="21" class="c"/><rect x="1299" y="1444" width="23" height="21" class="c"/>
<text x="1299" y="1418">25</text><text x="1299" y="1439">26</text><text x="1287" y="1460">27</text><text x="1310" y="1460">28</text>
<rect x="1346" y="1402" width="23" height="21" class="c"/><rect x="1346" y="1423" width="23" height="21" class="c"/><rect x="1334" y="1444" width="23" height="21" class="c"/><rect x="1357" y="1444" width="23" height="21" class="c"/>
<text x="1357" y="1418">29</text><text x="1357" y="1439">30</text><text x="1345" y="1460">31</text><text x="1368" y="1460">32</text>
<rect x="1404" y="1402" width="23" height="21" class="c"/><rect x="1404" y="1423" width="23" height="21" class="c"/><rect x="1392" y="1444" width="23" height="21" class="c"/><rect x="1415" y="1444" width="23" height="21" class="c"/>
<text x="1415" y="1418">33</text><text x="1415" y="1439">34</text><text x="1403" y="1460">35</text><text x="1426" y="1460">36</text>
<rect x="1462" y="1402" width="23" height="21" class="c"/><rect x="1462" y="1423" width="23" height="21" class="c"/><rect x="1450" y="1444" width="23" height="21" class="c"/><rect x="1473" y="1444" width="23" height="21" class="c"/>
<text x="1473" y="1418">37</text><text x="1473" y="1439">38</text><text x="1461" y="1460">39</text><text x="1484" y="1460">40</text>
</g>
</g>
</svg>
</body></html>
